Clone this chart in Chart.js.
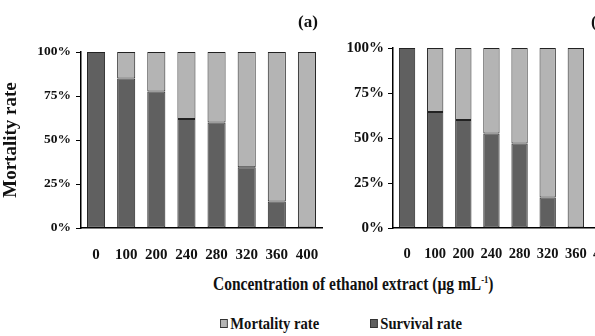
<!DOCTYPE html>
<html>
<head>
<meta charset="utf-8">
<script src="https://cdn.jsdelivr.net/npm/chart.js@4.4.0/dist/chart.umd.min.js"></script>
<style>
  html, body { margin: 0; padding: 0; background: #fff; }
  body { width: 595px; height: 336px; overflow: hidden; position: relative; font-family: "Liberation Serif", "Times New Roman", serif; font-weight: bold; color: #111; }
  canvas { position: absolute; }
  .txt { position: absolute; white-space: nowrap; transform-origin: left top; }
  .sw { display: inline-block; width: 7px; height: 7px; border: 1px solid #333; margin-right: 3px; vertical-align: 1px; }
</style>
</head>
<body>
<canvas id="chartA" width="340" height="260" style="left:0;top:0;width:340px;height:260px"></canvas>
<canvas id="chartB" width="300" height="260" style="left:330px;top:0;width:300px;height:260px"></canvas>

<div class="txt" style="left:298px;top:12px;font-size:17px;">(a)</div>
<div class="txt" style="left:591px;top:12px;font-size:17px;">(b)</div>
<div class="txt" id="xtitle" style="left:213px;top:274px;font-size:18px;transform:scaleX(0.86);">Concentration of ethanol extract (µg mL<sup style="font-size:10px">-1</sup>)</div>
<div class="txt" style="left:220px;top:314px;font-size:17px;transform:scaleX(0.86);"><span class="sw" style="background:#b4b4b4"></span>Mortality rate</div>
<div class="txt" style="left:370px;top:314px;font-size:17px;transform:scaleX(0.86);"><span class="sw" style="background:#606060"></span>Survival rate</div>

<script>
const concentrations = ["0", "100", "200", "240", "280", "320", "360", "400"];
const survivalA = [100, 85, 77.5, 62, 60, 34.5, 15, 0];
const mortalityA = survivalA.map(v => 100 - v);
const survivalB = [100, 64.5, 60, 52.5, 47, 17, 0, 0];
const mortalityB = survivalB.map(v => 100 - v);
const yTicks = [0, 25, 50, 75, 100];

const darkGray = "#606060";
const lightGray = "#b4b4b4";
const fontFamily = "'Liberation Serif', 'Times New Roman', serif";

function buildChart(id, survival, mortality, opts) {
    const ctx = document.getElementById(id).getContext("2d");
    return new Chart(ctx, {
        type: "bar",
        data: {
            labels: concentrations,
            datasets: [{
                label: "Survival rate",
                data: survival,
                backgroundColor: darkGray,
                borderColor: "#222",
                borderWidth: 1,
                borderSkipped: false
            }, {
                label: "Mortality rate",
                data: mortality,
                backgroundColor: lightGray,
                borderColor: "#222",
                borderWidth: 1,
                borderSkipped: false
            }]
        },
        options: {
            responsive: false,
            animation: false,
            datasets: { bar: { categoryPercentage: 1, barPercentage: opts.barPct } },
            layout: { padding: { left: 0, top: opts.top, right: opts.right, bottom: 0 } },
            plugins: { legend: { display: false }, tooltip: { enabled: false } },
            scales: {
                x: {
                    stacked: true,
                    grid: { display: false },
                    border: { display: true, color: "#000", width: 1.5 },
                    ticks: {
                        color: "#111",
                        padding: 10,
                        maxRotation: 0,
                        minRotation: 0,
                        autoSkip: false,
                        font: { family: fontFamily, weight: "bold", size: opts.xSize }
                    },
                    afterFit: s => { s.height = 260 - 228; }
                },
                y: {
                    stacked: true,
                    min: 0,
                    max: 100,
                    afterBuildTicks: s => { s.ticks = yTicks.map(v => ({ value: v })); },
                    grid: { drawOnChartArea: false, drawTicks: true, tickLength: 5, color: "#000" },
                    border: { display: true, color: "#000", width: 1.5 },
                    ticks: {
                        color: "#111",
                        padding: opts.tickPad,
                        font: { family: fontFamily, weight: "bold", size: opts.tickSize },
                        callback: v => v + "%"
                    },
                    title: {
                        display: opts.showTitle,
                        text: "Mortality rate",
                        color: "#111",
                        padding: { top: 0, bottom: 0 },
                        font: { family: fontFamily, weight: "bold", size: 19 }
                    },
                    afterFit: s => { s.width = opts.yWidth; }
                }
            }
        }
    });
}

buildChart("chartA", survivalA, mortalityA, { barPct: 0.6, top: 52, right: 18, yWidth: 81, tickPad: 5, tickSize: 13.5, xSize: 15, showTitle: true });
buildChart("chartB", survivalB, mortalityB, { barPct: 0.58, top: 48, right: 12, yWidth: 63, tickPad: 4, tickSize: 15, xSize: 14.5, showTitle: false });
</script>
</body>
</html>
